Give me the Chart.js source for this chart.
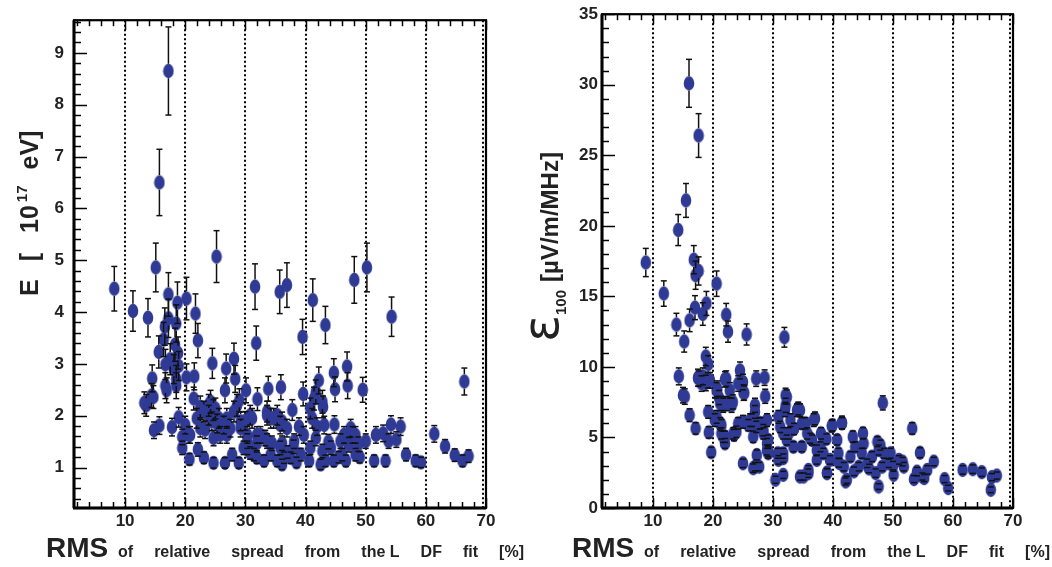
<!DOCTYPE html>
<html>
<head>
<meta charset="utf-8">
<script src="https://cdn.jsdelivr.net/npm/chart.js@4.4.0/dist/chart.umd.min.js"></script>
<style>
  body { margin: 0; background: #fff; width: 1052px; height: 567px; overflow: hidden; position: relative; }
  canvas { position: absolute; top: 0; }
  #chartEnergy { left: 0; }
  #chartField { left: 526px; }
</style>
</head>
<body>
<canvas id="chartEnergy" width="526" height="567"></canvas>
<canvas id="chartField" width="526" height="567"></canvas>
<script>
// x axis ticks (same for both panels)
const rmsTicks = [10, 20, 30, 40, 50, 60, 70];
const energyTicks = [1, 2, 3, 4, 5, 6, 7, 8, 9];
const fieldTicks = [0, 5, 10, 15, 20, 25, 30, 35];

// left panel: E [10^17 eV] vs RMS of relative spread
const energyRms = [
  8.2, 11.3, 13.8, 15.1, 15.7, 17.2, 17.2, 18.7, 20.2, 21.7, 22.1, 25.2, 31.6, 31.8, 35.7, 36.9, 39.5, 41.2, 43.3, 48.1,
  50.2, 54.3, 66.4, 15.6, 16.6, 17.2, 18.5, 16.4, 18.3, 17.5, 18.8, 18.1, 18.9, 16.7, 14.5, 16.7, 16.9, 18.5, 18.5, 20.2,
  21.5, 13.5, 14.4, 14.7, 13.2, 24.5, 26.8, 28.1, 28.3, 26.6, 30.1, 32.0, 33.8, 35.9, 39.6, 42.2, 44.7, 44.9, 46.9, 47.0,
  49.5, 21.4, 22.5, 23.9, 24.7, 14.8, 15.7, 17.8, 18.9, 19.5, 19.5, 20.7, 20.8, 22.1, 23.1, 23.3, 23.9, 24.7, 24.7, 25.3,
  25.8, 26.6, 26.9, 27.5, 27.8, 28.1, 28.6, 28.9, 29.2, 30.3, 31.1, 31.4, 31.9, 20.0, 20.6, 21.9, 22.5, 23.1, 24.2, 25.0,
  24.4, 25.6, 26.4, 26.9, 29.2, 30.3, 30.8, 33.6, 34.2, 35.3, 36.1, 29.7, 30.8, 31.9, 33.1, 34.2, 35.3, 36.4, 34.4, 36.1,
  31.9, 33.3, 30.3, 32.5, 33.6, 35.8, 36.1, 37.5, 38.1, 39.2, 39.7, 40.6, 40.8, 41.7, 42.5, 42.8, 43.3, 44.2, 44.7, 45.8,
  46.1, 46.7, 47.2, 47.8, 48.3, 48.3, 33.6, 34.7, 35.8, 36.9, 37.8, 38.9, 40.8, 41.1, 41.9, 42.9, 43.1, 44.8, 46.4, 47.5,
  41.4, 41.7, 42.8, 50.0, 51.7, 52.9, 54.2, 55.8, 53.8, 55.1, 61.4, 63.2, 64.8, 66.1, 67.1, 51.4, 53.3, 56.7, 58.3, 59.2,
  37.0, 38.5, 45.5, 49.0, 48.8, 29.0, 30.0, 38.0, 43.8
];
const energyValues = [
  4.45, 4.02, 3.89, 4.86, 6.50, 8.65, 4.34, 4.18, 4.26, 3.97, 3.45, 5.07, 4.49, 3.40, 4.39, 4.52, 3.52, 4.23, 3.75, 4.62,
  4.86, 3.91, 2.66, 3.23, 3.72, 3.88, 3.78, 3.47, 3.37, 3.09, 3.21, 2.90, 2.96, 2.99, 2.72, 2.58, 2.49, 2.71, 2.58, 2.74,
  2.76, 2.20, 2.39, 2.36, 2.25, 3.01, 2.91, 3.10, 2.71, 2.49, 2.49, 2.32, 2.52, 2.55, 2.42, 2.68, 2.83, 2.51, 2.95, 2.58,
  2.50, 2.33, 2.17, 2.20, 2.11, 1.72, 1.81, 1.78, 1.97, 1.59, 1.38, 1.16, 1.63, 1.35, 1.19, 1.73, 2.01, 1.57, 1.09, 1.85,
  1.63, 1.09, 1.95, 1.76, 1.25, 2.08, 2.20, 1.09, 1.89, 1.38, 1.95, 1.25, 1.63, 1.82, 1.63, 1.95, 1.76, 2.08, 2.27, 2.14,
  1.89, 1.95, 1.82, 1.63, 1.76, 1.51, 2.01, 2.08, 1.95, 2.01, 1.89, 1.38, 1.28, 1.19, 1.13, 1.25, 1.13, 1.19, 1.47, 1.47,
  1.47, 1.57, 1.63, 1.63, 1.51, 1.38, 1.06, 1.19, 1.51, 1.25, 1.63, 1.13, 1.38, 1.57, 1.06, 1.32, 1.13, 1.38, 1.13, 1.51,
  1.25, 1.13, 1.44, 1.63, 1.25, 1.63, 2.01, 1.95, 1.82, 1.76, 2.11, 1.79, 2.14, 1.95, 1.79, 2.17, 1.82, 1.83, 1.63, 1.76,
  2.33, 2.46, 2.27, 1.51, 1.63, 1.66, 1.83, 1.79, 1.51, 1.54, 1.65, 1.41, 1.24, 1.13, 1.22, 1.13, 1.13, 1.25, 1.13, 1.10,
  1.30, 1.10, 1.20, 1.20, 1.45, 2.30, 1.90, 1.40, 1.50
];
const energyErrors = [
  0.43, 0.39, 0.37, 0.47, 0.64, 0.85, 0.42, 0.40, 0.41, 0.38, 0.33, 0.50, 0.44, 0.33, 0.42, 0.43, 0.34, 0.41, 0.36, 0.45,
  0.47, 0.38, 0.26, 0.31, 0.36, 0.37, 0.36, 0.33, 0.32, 0.30, 0.31, 0.28, 0.28, 0.29, 0.26, 0.25, 0.24, 0.26, 0.25, 0.26,
  0.26, 0.21, 0.23, 0.22, 0.21, 0.29, 0.28, 0.30, 0.26, 0.24, 0.24, 0.22, 0.24, 0.24, 0.23, 0.26, 0.27, 0.24, 0.28, 0.25,
  0.24, 0.22, 0.21, 0.21, 0.20, 0.16, 0.17, 0.17, 0.19, 0.15, 0.13, 0.11, 0.16, 0.13, 0.11, 0.17, 0.19, 0.15, 0.10, 0.18,
  0.16, 0.10, 0.19, 0.17, 0.12, 0.20, 0.21, 0.10, 0.18, 0.13, 0.19, 0.12, 0.16, 0.17, 0.16, 0.19, 0.17, 0.20, 0.22, 0.20,
  0.18, 0.19, 0.17, 0.16, 0.17, 0.14, 0.19, 0.20, 0.19, 0.19, 0.18, 0.13, 0.12, 0.11, 0.11, 0.12, 0.11, 0.11, 0.14, 0.14,
  0.14, 0.15, 0.16, 0.16, 0.14, 0.13, 0.10, 0.11, 0.14, 0.12, 0.16, 0.11, 0.13, 0.15, 0.10, 0.13, 0.11, 0.13, 0.11, 0.14,
  0.12, 0.11, 0.14, 0.16, 0.12, 0.16, 0.19, 0.19, 0.17, 0.17, 0.20, 0.17, 0.20, 0.19, 0.17, 0.21, 0.17, 0.17, 0.16, 0.17,
  0.22, 0.23, 0.22, 0.14, 0.16, 0.16, 0.17, 0.17, 0.14, 0.15, 0.16, 0.13, 0.12, 0.11, 0.12, 0.11, 0.11, 0.12, 0.11, 0.10,
  0.12, 0.10, 0.11, 0.11, 0.14, 0.22, 0.18, 0.13, 0.14
];

// right panel: eps_100 [uV/m/MHz] vs RMS of relative spread
const fieldRms = [
  8.8, 16.0, 17.6, 15.5, 14.2, 16.8, 17.1, 17.6, 20.6, 11.8, 13.9, 15.2, 16.1, 17.0, 18.3, 18.9, 22.2, 22.5, 25.6, 31.9,
  14.3, 15.0, 15.3, 16.1, 17.1, 18.8, 19.2, 17.5, 18.3, 18.8, 19.5, 19.2, 19.3, 19.7, 20.7, 21.0, 21.7, 22.2, 22.8, 23.3,
  24.5, 25.0, 25.1, 20.6, 21.4, 21.7, 22.0, 23.5, 23.9, 25.0, 27.2, 28.6, 28.7, 27.0, 27.0, 27.9, 27.2, 26.2, 26.7, 28.4,
  29.0, 29.2, 27.0, 27.7, 30.4, 31.7, 30.8, 31.7, 32.3, 32.0, 32.6, 48.3, 53.2, 37.0, 39.9, 41.5, 38.0, 43.3, 47.4, 47.9,
  49.6, 54.5, 56.8, 51.6, 51.8, 54.0, 54.9, 55.7, 50.1, 53.5, 55.2, 58.6, 59.2, 61.6, 63.3, 64.8, 66.5, 67.3, 66.3, 47.6,
  42.1, 39.0, 20.3, 21.2, 21.4, 22.0, 23.4, 24.2, 25.0, 25.9, 26.5, 27.8, 28.4, 29.0, 29.2, 29.0, 30.9, 31.2, 31.7, 32.3,
  32.9, 34.0, 34.8, 35.7, 36.5, 36.8, 37.3, 34.8, 33.4, 31.7, 30.9, 26.7, 34.5, 35.9, 27.3, 29.2, 32.1, 32.1, 34.2, 22.0,
  24.2, 25.2, 17.6, 18.1, 19.2, 20.6, 21.2, 21.7, 22.3, 23.1, 34.5, 35.4, 36.2, 35.9, 35.1, 39.0, 39.5, 40.7, 40.9, 41.8,
  42.3, 42.9, 43.7, 44.3, 44.8, 45.1, 45.7, 46.5, 47.1, 47.6, 48.2, 48.5, 49.3, 51.0, 37.9, 37.3, 38.4, 39.8, 41.5, 33.5,
  38.9, 41.0, 43.5, 46.0, 50.0, 45.0
];
const fieldValues = [
  17.4, 30.1, 26.4, 21.8, 19.7, 17.6, 16.5, 16.8, 15.9, 15.2, 13.0, 11.8, 13.3, 14.2, 13.75, 14.5, 13.7, 12.5, 12.3, 12.1,
  9.33, 8.0, 7.9, 6.58, 5.64, 10.74, 10.2, 9.24, 9.33, 8.86, 9.05, 6.81, 5.36, 3.95, 8.46, 7.83, 7.4, 9.17, 8.34, 7.52,
  9.75, 8.93, 8.18, 6.46, 5.87, 5.05, 4.58, 5.17, 5.4, 3.17, 9.17, 9.24, 7.92, 7.28, 6.81, 6.0, 5.75, 6.23, 5.05, 5.29,
  4.58, 4.0, 2.93, 2.93, 2.0, 2.35, 3.88, 3.53, 7.87, 6.93, 5.29, 7.45, 5.64, 6.35, 5.87, 6.06, 5.29, 5.05, 4.7, 4.46,
  3.88, 3.92, 3.29, 3.29, 2.93, 2.58, 2.23, 2.7, 2.35, 2.05, 2.12, 2.05, 1.41, 2.7, 2.75, 2.54, 2.19, 2.3, 1.29, 1.52,
  1.88, 2.51, 6.23, 6.0, 5.29, 5.05, 5.29, 6.0, 6.11, 5.87, 6.23, 6.0, 5.52, 6.23, 4.82, 4.11, 6.46, 5.75, 5.29, 4.82,
  6.23, 6.93, 6.0, 5.29, 4.82, 6.23, 4.11, 4.34, 4.34, 3.88, 3.41, 2.82, 2.23, 2.47, 3.76, 3.88, 7.99, 7.28, 7.05, 9.12,
  8.82, 8.15, 9.17, 8.82, 9.05, 8.34, 7.4, 7.28, 7.4, 7.28, 6.93, 6.0, 4.94, 2.7, 2.23, 2.47, 3.41, 4.82, 3.88, 2.93,
  2.0, 3.64, 4.34, 2.93, 3.88, 4.58, 3.17, 3.64, 2.47, 4.11, 2.93, 3.88, 3.17, 3.41, 4.34, 3.41, 3.88, 5.8, 6.0, 5.6,
  4.9, 3.2, 2.6, 2.8, 3.0, 5.3
];
const fieldErrors = [
  1.0, 1.7, 1.55, 1.2, 1.1, 1.0, 1.0, 1.0, 0.9, 0.9, 0.8, 0.75, 0.8, 0.85, 0.8, 0.85, 0.8, 0.75, 0.75, 0.7,
  0.6, 0.55, 0.55, 0.45, 0.4, 0.65, 0.6, 0.6, 0.6, 0.55, 0.55, 0.45, 0.4, 0.35, 0.55, 0.5, 0.5, 0.55, 0.55, 0.5,
  0.6, 0.55, 0.55, 0.45, 0.4, 0.4, 0.35, 0.4, 0.4, 0.3, 0.55, 0.55, 0.5, 0.5, 0.45, 0.4, 0.4, 0.45, 0.4, 0.4,
  0.35, 0.35, 0.3, 0.3, 0.25, 0.25, 0.35, 0.3, 0.5, 0.45, 0.4, 0.5, 0.4, 0.45, 0.4, 0.45, 0.4, 0.4, 0.35, 0.35,
  0.35, 0.35, 0.3, 0.3, 0.3, 0.3, 0.25, 0.3, 0.25, 0.25, 0.25, 0.25, 0.2, 0.3, 0.3, 0.3, 0.25, 0.25, 0.2, 0.2,
  0.25, 0.3, 0.45, 0.4, 0.4, 0.4, 0.4, 0.4, 0.45, 0.4, 0.45, 0.4, 0.4, 0.45, 0.35, 0.35, 0.45, 0.4, 0.4, 0.35,
  0.45, 0.45, 0.4, 0.4, 0.35, 0.45, 0.35, 0.35, 0.35, 0.35, 0.3, 0.3, 0.25, 0.3, 0.35, 0.35, 0.5, 0.5, 0.45, 0.55,
  0.55, 0.5, 0.55, 0.55, 0.55, 0.55, 0.5, 0.5, 0.5, 0.5, 0.45, 0.4, 0.35, 0.3, 0.25, 0.3, 0.3, 0.35, 0.35, 0.3,
  0.25, 0.35, 0.35, 0.3, 0.35, 0.35, 0.3, 0.35, 0.3, 0.35, 0.3, 0.35, 0.3, 0.3, 0.35, 0.3, 0.35, 0.4, 0.4, 0.4,
  0.35, 0.3, 0.3, 0.3, 0.3, 0.4
];

const FONT = "'Liberation Sans', Arial, sans-serif";
const MARK_RX = 5.3;
const MARK_RY = 7.2;

// filled ellipse used as marker
function makeMarker() {
  const c = document.createElement('canvas');
  c.width = 12;
  c.height = 16;
  const g = c.getContext('2d');
  g.fillStyle = '#2f3a95';
  g.beginPath();
  g.ellipse(6, 8, MARK_RX, MARK_RY, 0, 0, Math.PI * 2);
  g.fill();
  return c;
}
const marker = makeMarker();

function line(ctx, x1, y1, x2, y2) {
  ctx.beginPath();
  ctx.moveTo(x1, y1);
  ctx.lineTo(x2, y2);
  ctx.stroke();
}

// tick positions between min and max for a step
function tickValues(min, max, step) {
  const out = [];
  for (let i = Math.ceil(min / step - 1e-9); i * step <= max + 1e-9; i++) out.push(+(i * step).toFixed(6));
  return out;
}
function isMajor(v, major) {
  return Math.abs(v / major - Math.round(v / major)) < 1e-6;
}

// draws the frame, dotted verticals, inward ticks, error bars and titles
const rootStyle = {
  id: 'rootStyle',
  beforeDatasetsDraw(chart, args, o) {
    const { ctx, chartArea: a, scales: { x } } = chart;
    ctx.save();
    ctx.strokeStyle = '#000';
    ctx.lineWidth = 2;
    ctx.setLineDash([2, 2.5]);
    rmsTicks.forEach(v => {
      const px = Math.round(x.getPixelForValue(v)) - (v === x.max ? 3 : 0);
      line(ctx, px, a.top, px, a.bottom);
    });
    ctx.restore();
  },
  afterDatasetsDraw(chart, args, o) {
    const { ctx, chartArea: a, scales: { x, y } } = chart;
    ctx.save();
    // error bars, gap where the marker sits
    ctx.strokeStyle = '#111';
    ctx.lineWidth = 1.5;
    chart.data.datasets[0].data.forEach(p => {
      const px = x.getPixelForValue(p.x);
      const pc = y.getPixelForValue(p.y);
      const pt = y.getPixelForValue(p.y + p.err);
      const pb = y.getPixelForValue(p.y - p.err);
      if (pt < pc - MARK_RY) line(ctx, px, pt, px, pc - MARK_RY);
      if (pb > pc + MARK_RY) line(ctx, px, pc + MARK_RY, px, pb);
      line(ctx, px - 3, pt, px + 3, pt);
      line(ctx, px - 3, pb, px + 3, pb);
    });

    // ticks
    ctx.strokeStyle = '#000';
    ctx.lineWidth = 1.5;
    tickValues(x.min, x.max, o.xMinor).forEach(v => {
      const px = Math.round(x.getPixelForValue(v)) + 0.5;
      const big = isMajor(v, o.xMajor);
      line(ctx, px, a.bottom, px, a.bottom - (big ? 10 : 6));
      line(ctx, px, a.top, px, a.top + (big ? 10 : 6));
    });
    tickValues(y.min, y.max, o.yMinor).forEach(v => {
      const py = Math.round(y.getPixelForValue(v)) + 0.5;
      const big = isMajor(v, o.yMajor);
      line(ctx, a.left, py, a.left + (big ? 13 : 7), py);
    });

    // frame
    ctx.lineWidth = 2.2;
    ctx.strokeRect(a.left, a.top, a.right - a.left, a.bottom - a.top);
    ctx.lineWidth = 3;
    line(ctx, a.left, a.top, a.left, a.bottom);
    line(ctx, a.left - 1, a.bottom, a.right, a.bottom);
    ctx.restore();
  },
  afterDraw(chart, args, o) {
    const ctx = chart.ctx;
    ctx.save();
    ctx.fillStyle = '#222';
    // x title
    ctx.textBaseline = 'alphabetic';
    ctx.font = 'bold 28px ' + FONT;
    ctx.fillText('RMS', 46, 557);
    ctx.font = 'bold 16px ' + FONT;
    const words = ['of', 'relative', 'spread', 'from', 'the L', 'DF', 'fit', '[%]'];
    const widths = words.map(w => ctx.measureText(w).width);
    const gap = (524 - 118 - widths.reduce((s, w) => s + w, 0)) / (words.length - 1);
    let cx = 118;
    words.forEach((w, i) => {
      ctx.fillText(w, cx, 557);
      cx += widths[i] + gap;
    });
    // y title, rotated
    ctx.translate(o.yTitleX, o.yTitleY);
    ctx.rotate(-Math.PI / 2);
    let pos = 0;
    o.yTitle.forEach(part => {
      ctx.font = part.font;
      ctx.fillText(part.text, pos, part.dy);
      pos += ctx.measureText(part.text).width + (part.gap || 0);
    });
    ctx.restore();
  }
};

function makeChart(id, rms, values, errors, cfg) {
  return new Chart(document.getElementById(id), {
    type: 'scatter',
    data: {
      datasets: [{
        data: rms.map((v, i) => ({ x: v, y: values[i], err: errors[i] })),
        pointStyle: marker,
        pointRadius: 7
      }]
    },
    options: {
      responsive: false,
      animation: false,
      devicePixelRatio: 1,
      events: [],
      layout: { padding: { top: 12, right: cfg.padRight, left: 0, bottom: 0 } },
      plugins: {
        legend: { display: false },
        tooltip: { enabled: false },
        rootStyle: cfg.style
      },
      scales: {
        x: {
          type: 'linear',
          min: 1.5,
          max: 70,
          afterBuildTicks: s => { s.ticks = rmsTicks.map(v => ({ value: v })); },
          afterFit: s => { s.height = 59; },
          grid: { display: false, drawTicks: false },
          border: { display: false },
          ticks: { color: '#222', padding: 3, maxRotation: 0, font: { family: FONT, size: 17, weight: 'bold' } }
        },
        y: {
          type: 'linear',
          min: cfg.yMin,
          max: cfg.yMax,
          afterBuildTicks: s => { s.ticks = cfg.yTicks.map(v => ({ value: v })); },
          afterFit: s => { s.width = cfg.yWidth; },
          grid: { display: false, drawTicks: false },
          border: { display: false },
          ticks: { color: '#222', padding: cfg.yPad, font: { family: FONT, size: 17, weight: 'bold' } }
        }
      }
    },
    plugins: [rootStyle]
  });
}

makeChart('chartEnergy', energyRms, energyValues, energyErrors, {
  padRight: 40, yWidth: 74, yPad: 10, yMin: 0.22, yMax: 9.63, yTicks: energyTicks,
  style: {
    xMinor: 2, xMajor: 10, yMinor: 0.2, yMajor: 1,
    yTitleX: 38, yTitleY: 296,
    yTitle: [
      { text: 'E', font: 'bold 25px ' + FONT, dy: 0, gap: 18 },
      { text: '[', font: 'bold 25px ' + FONT, dy: 0, gap: 20 },
      { text: '10', font: 'bold 25px ' + FONT, dy: 0, gap: 3 },
      { text: '17', font: 'bold 15px ' + FONT, dy: -11, gap: 16 },
      { text: 'eV]', font: 'bold 25px ' + FONT, dy: 0 }
    ]
  }
});

makeChart('chartField', fieldRms, fieldValues, fieldErrors, {
  padRight: 39, yWidth: 76, yPad: 4, yMin: 0, yMax: 35, yTicks: fieldTicks,
  style: {
    xMinor: 2, xMajor: 10, yMinor: 1, yMajor: 5,
    yTitleX: 32, yTitleY: 342,
    yTitle: [
      { text: '\u03b5', font: '50px "DejaVu Sans"', dy: 0, gap: 0 },
      { text: '100', font: 'bold 15px ' + FONT, dy: 8, gap: 8 },
      { text: '[\u00b5V/m/MHz]', font: 'bold 24px ' + FONT, dy: 0 }
    ]
  }
});
</script>
</body>
</html>
